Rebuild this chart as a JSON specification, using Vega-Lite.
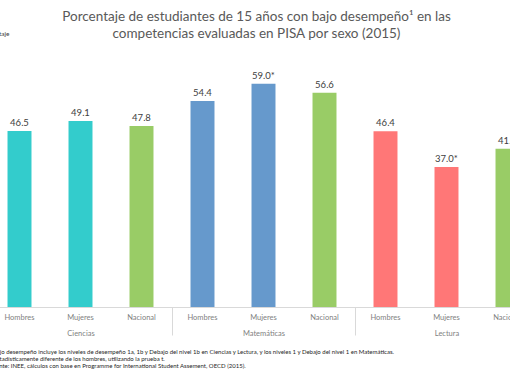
{
  "$schema": "https://vega.github.io/schema/vega-lite/v6.json",
  "autosize": "none",
  "padding": {"left": -11, "top": 42, "right": -28, "bottom": 75},
  "width": 549,
  "height": 265,
  "background": "white",
  "config": {"view": {"stroke": null}, "font": "Lato"},
  "title": {
    "text": ["Porcentaje de estudiantes de 15 años con bajo desempeño¹ en las", "competencias evaluadas en PISA por sexo (2015)"],
    "fontSize": 13.5,
    "fontWeight": "normal",
    "color": "#595959",
    "lineHeight": 17,
    "offset": -10,
    "dx": -7,
    "anchor": "middle"
  },
  "data": {
    "values": [
      {"cat": "Ciencias|Hombres", "materia": "Ciencias", "sexo": "Hombres", "valor": 46.5, "etiqueta": "46.5", "color": "teal"},
      {"cat": "Ciencias|Mujeres", "materia": "Ciencias", "sexo": "Mujeres", "valor": 49.1, "etiqueta": "49.1", "color": "teal"},
      {"cat": "Ciencias|Nacional", "materia": "Ciencias", "sexo": "Nacional", "valor": 47.8, "etiqueta": "47.8", "color": "green"},
      {"cat": "Matemáticas|Hombres", "materia": "Matemáticas", "sexo": "Hombres", "valor": 54.4, "etiqueta": "54.4", "color": "blue"},
      {"cat": "Matemáticas|Mujeres", "materia": "Matemáticas", "sexo": "Mujeres", "valor": 59.0, "etiqueta": "59.0*", "color": "blue"},
      {"cat": "Matemáticas|Nacional", "materia": "Matemáticas", "sexo": "Nacional", "valor": 56.6, "etiqueta": "56.6", "color": "green"},
      {"cat": "Lectura|Hombres", "materia": "Lectura", "sexo": "Hombres", "valor": 46.4, "etiqueta": "46.4", "color": "red"},
      {"cat": "Lectura|Mujeres", "materia": "Lectura", "sexo": "Mujeres", "valor": 37.0, "etiqueta": "37.0*", "color": "red"},
      {"cat": "Lectura|Nacional", "materia": "Lectura", "sexo": "Nacional", "valor": 41.8, "etiqueta": "41.8", "color": "green"}
    ]
  },
  "layer": [
    {
      "encoding": {
        "x": {
          "field": "cat", "type": "nominal", "sort": null,
          "scale": {"paddingInner": 0.607, "paddingOuter": 0.3035},
          "axis": {
            "orient": "bottom", "title": null, "labelExpr": "split(datum.value, '|')[1]", "labelAngle": 0,
            "ticks": false, "domainColor": "#d9d9d9", "labelColor": "#7f7f7f",
            "labelFontSize": 7.5, "labelPadding": 6
          }
        },
        "y": {"field": "valor", "type": "quantitative", "scale": {"domain": [0, 70]}, "axis": {
          "title": "Porcentaje", "titleAngle": 0, "titleAlign": "right", "titleBaseline": "middle",
          "titleX": 20, "titleY": -9, "titleFontSize": 6.5, "titleFontWeight": "normal", "titleColor": "#404040",
          "labels": false, "ticks": false, "domain": false, "grid": false
        }}
      },
      "layer": [
        {
          "mark": {"type": "bar"},
          "encoding": {
            "color": {"field": "color", "type": "nominal", "scale": {"domain": ["teal", "green", "blue", "red"], "range": ["#33CCCC", "#99CC66", "#6699CC", "#FF7777"]}, "legend": null}
          }
        },
        {
          "mark": {"type": "text", "baseline": "bottom", "dy": -3, "fontSize": 9.5, "color": "#404040"},
          "encoding": {"text": {"field": "etiqueta"}}
        }
      ]
    },
    {
      "mark": {"type": "tick", "opacity": 0},
      "encoding": {
        "x": {
          "field": "materia", "type": "nominal", "sort": ["Ciencias", "Matemáticas", "Lectura"],
          "scale": {"paddingInner": 0, "paddingOuter": 0},
          "axis": {
            "orient": "bottom",
            "title": ["¹ Bajo desempeño incluye los niveles de desempeño 1a, 1b y Debajo del nivel 1b en Ciencias y Lectura, y los niveles 1 y Debajo del nivel 1 en Matemáticas.", "* Estadísticamente diferente de los hombres, utilizando la prueba t.", "Fuente: INEE, cálculos con base en Programme for International Student Assement, OECD (2015)."],
            "titleAnchor": "start", "titleAlign": "left", "titleFontSize": 6, "titleFontWeight": "normal",
            "titleColor": "#262626", "titleLineHeight": 7, "titlePadding": 12,
            "domain": false, "tickBand": "extent", "tickSize": 28, "tickColor": "#d9d9d9",
            "labelAngle": 0, "labelPadding": -6, "labelFontSize": 7.5, "labelColor": "#7f7f7f"
          }
        }
      }
    }
  ],
  "resolve": {"scale": {"x": "independent"}, "axis": {"x": "independent"}}
}
